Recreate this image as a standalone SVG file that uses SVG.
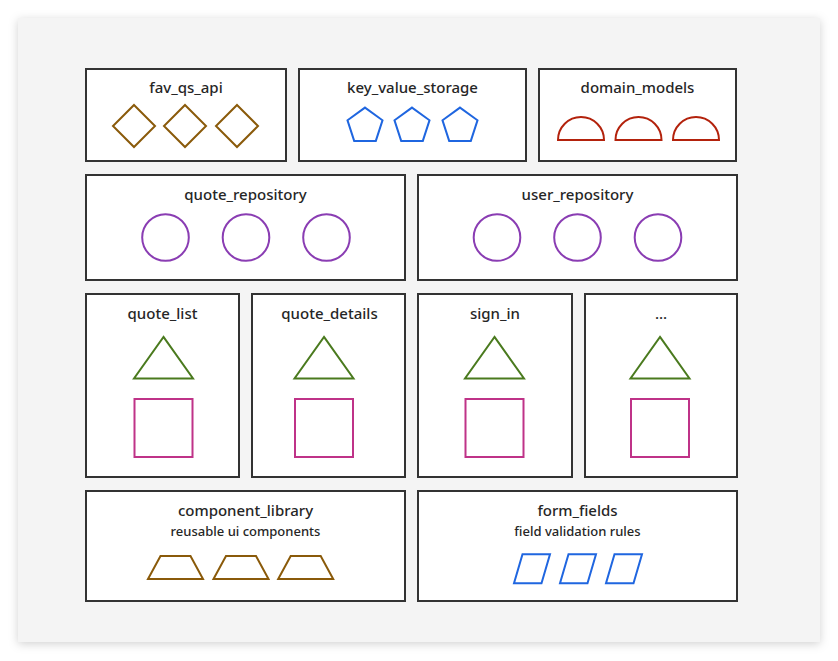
<svg xmlns="http://www.w3.org/2000/svg" xmlns:xlink="http://www.w3.org/1999/xlink" width="838" height="661" viewBox="0 0 838 661">
  <style>
    .box { fill: #ffffff; stroke: #333333; stroke-width: 2; }
    .title { font-family: "Noto Sans", "Liberation Sans", sans-serif; font-size: 15px; font-weight: 500; fill: #262626; text-anchor: middle; }
    .sub { font-family: "Noto Sans", "Liberation Sans", sans-serif; font-size: 13px; font-weight: 500; fill: #262626; text-anchor: middle; }
    .shp { fill: none; stroke-width: 2; stroke-linejoin: miter; }
    .brown { stroke: #8a5a0a; }
    .blue { stroke: #1f66e0; }
    .red { stroke: #b3220c; }
    .purple { stroke: #8a3db3; }
    .green { stroke: #4a7a1e; }
    .magenta { stroke: #bf3388; }
  </style>
  <defs>
    <filter id="shadow" x="-10%" y="-10%" width="120%" height="120%">
      <feDropShadow dx="0" dy="2" stdDeviation="5" flood-color="#000000" flood-opacity="0.18"/>
    </filter>
    <polygon id="diamond" class="shp brown" points="0,-21 21,0 0,21 -21,0"/>
    <polygon id="pentagon" class="shp blue" points="0,-18.4 17.5,-5.69 10.82,14.89 -10.82,14.89 -17.5,-5.69"/>
    <path id="half" class="shp red" d="M -23 0 A 23 23 0 0 1 23 0 Z"/>
    <circle id="circ" class="shp purple" cx="0" cy="0" r="23.3"/>
    <polygon id="tri" class="shp green" points="0,-20.8 29.5,20.8 -29.5,20.8"/>
    <rect id="sq" class="shp magenta" x="-29" y="-29" width="58" height="58"/>
    <polygon id="trap" class="shp brown" points="-15,-11.5 15,-11.5 27.5,11.5 -27.5,11.5"/>
    <polygon id="para" class="shp blue" points="-9.5,-14.5 18,-14.5 9.5,14.5 -18,14.5"/>
  </defs>

  <rect x="0" y="0" width="838" height="661" fill="#ffffff"/>
  <rect x="18" y="18" width="802" height="624" fill="#f4f4f4" filter="url(#shadow)"/>

  <g id="fav_qs_api">
    <rect class="box" x="86" y="69" width="200" height="92"/>
    <text class="title" x="186" y="93">fav_qs_api</text>
    <use xlink:href="#diamond" x="134" y="126"/>
    <use xlink:href="#diamond" x="185" y="126"/>
    <use xlink:href="#diamond" x="237" y="126"/>
  </g>

  <g id="key_value_storage">
    <rect class="box" x="299" y="69" width="227" height="92"/>
    <text class="title" x="412.5" y="93">key_value_storage</text>
    <use xlink:href="#pentagon" x="365" y="126"/>
    <use xlink:href="#pentagon" x="412" y="126"/>
    <use xlink:href="#pentagon" x="460" y="126"/>
  </g>

  <g id="domain_models">
    <rect class="box" x="539" y="69" width="197" height="92"/>
    <text class="title" x="637.5" y="93">domain_models</text>
    <use xlink:href="#half" x="581" y="140"/>
    <use xlink:href="#half" x="638.5" y="140"/>
    <use xlink:href="#half" x="696" y="140"/>
  </g>

  <g id="quote_repository">
    <rect class="box" x="86" y="175" width="319" height="105"/>
    <text class="title" x="245.5" y="200">quote_repository</text>
    <use xlink:href="#circ" x="165.5" y="237.5"/>
    <use xlink:href="#circ" x="246" y="237.5"/>
    <use xlink:href="#circ" x="326.5" y="237.5"/>
  </g>

  <g id="user_repository">
    <rect class="box" x="418" y="175" width="319" height="105"/>
    <text class="title" x="577.5" y="200">user_repository</text>
    <use xlink:href="#circ" x="497" y="237.5"/>
    <use xlink:href="#circ" x="577.5" y="237.5"/>
    <use xlink:href="#circ" x="658" y="237.5"/>
  </g>

  <g id="quote_list">
    <rect class="box" x="86" y="294" width="153" height="183"/>
    <text class="title" x="162.5" y="319">quote_list</text>
    <use xlink:href="#tri" x="163.5" y="357.7"/>
    <use xlink:href="#sq" x="163.5" y="428"/>
  </g>

  <g id="quote_details">
    <rect class="box" x="252" y="294" width="153" height="183"/>
    <text class="title" x="329.5" y="319">quote_details</text>
    <use xlink:href="#tri" x="324" y="357.7"/>
    <use xlink:href="#sq" x="324" y="428"/>
  </g>

  <g id="sign_in">
    <rect class="box" x="418" y="294" width="154" height="183"/>
    <text class="title" x="495" y="319">sign_in</text>
    <use xlink:href="#tri" x="494.5" y="357.7"/>
    <use xlink:href="#sq" x="494.5" y="428"/>
  </g>

  <g id="more">
    <rect class="box" x="585" y="294" width="152" height="183"/>
    <text class="title" x="661" y="319">...</text>
    <use xlink:href="#tri" x="660" y="357.7"/>
    <use xlink:href="#sq" x="660" y="428"/>
  </g>

  <g id="component_library">
    <rect class="box" x="86" y="491" width="319" height="110"/>
    <text class="title" x="245.5" y="516">component_library</text>
    <text class="sub" x="245.5" y="536">reusable ui components</text>
    <use xlink:href="#trap" x="175.5" y="567.5"/>
    <use xlink:href="#trap" x="241" y="567.5"/>
    <use xlink:href="#trap" x="305.7" y="567.5"/>
  </g>

  <g id="form_fields">
    <rect class="box" x="418" y="491" width="319" height="110"/>
    <text class="title" x="577.5" y="516">form_fields</text>
    <text class="sub" x="577.5" y="536">field validation rules</text>
    <use xlink:href="#para" x="532" y="568.7"/>
    <use xlink:href="#para" x="578" y="568.7"/>
    <use xlink:href="#para" x="624" y="568.7"/>
  </g>

  <g id="connectors"></g>
</svg>
